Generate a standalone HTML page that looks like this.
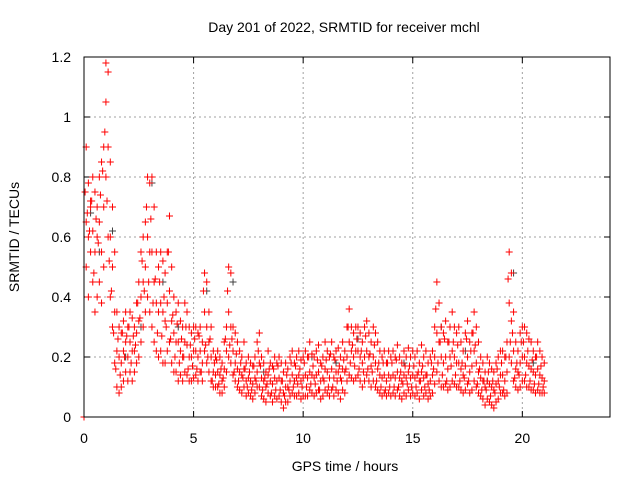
<!DOCTYPE html>
<html><head><meta charset="utf-8"><style>
body{margin:0;background:#fff;}
svg{display:block;font-family:"Liberation Sans",sans-serif;}
</style></head><body>
<svg id="chart" width="640" height="480">
<text x="344" y="32" font-size="14" text-anchor="middle">Day 201 of 2022, SRMTID for receiver mchl</text>
<text x="345" y="471" font-size="14" text-anchor="middle">GPS time / hours</text>
<text transform="translate(19,237) rotate(-90)" font-size="14" text-anchor="middle">SRMTID / TECUs</text>
<g id="grid"></g><g id="ticks"></g><g id="grey"></g><g id="red"></g>
<rect x="84" y="57" width="526" height="360" fill="none" stroke="#000" stroke-width="1"/>
</svg>
<script>
const xTicks=[0,5,10,15,20];
const yTicks=[0,0.2,0.4,0.6,0.8,1,1.2];
const yTickLabels=["0","0.2","0.4","0.6","0.8","1","1.2"];
const hi=[.90,.78,.72,.80,.75,.70,.80,.85,.90,1.18,
1.15,.85,.70,.55,.35,.30,.28,.32,.35,.30,
.35,.33,.30,.38,.45,.55,.60,.65,.80,.78,
.80,.70,.55,.50,.55,.52,.48,.55,.67,.50,
.40,.35,.38,.32,.30,.38,.35,.30,.28,.30,
.30,.28,.30,.25,.48,.45,.35,.30,.22,.20,
.22,.20,.18,.25,.30,.50,.48,.30,.28,.25,
.22,.20,.25,.18,.20,.18,.17,.20,.25,.28,
.20,.18,.15,.22,.18,.17,.20,.18,.20,.18,
.15,.18,.16,.20,.22,.18,.20,.22,.19,.20,
.22,.20,.25,.21,.20,.22,.24,.18,.20,.25,
.22,.20,.25,.20,.22,.23,.20,.25,.22,.30,
.36,.30,.28,.30,.30,.28,.25,.30,.32,.28,
.25,.30,.28,.25,.22,.20,.22,.18,.22,.20,
.22,.20,.24,.20,.18,.22,.20,.23,.20,.22,
.20,.22,.18,.24,.20,.22,.18,.20,.22,.30,
.45,.38,.30,.28,.32,.25,.30,.35,.30,.28,
.30,.25,.22,.28,.32,.25,.28,.35,.30,.25,
.20,.18,.15,.20,.18,.16,.15,.18,.20,.22,
.22,.20,.25,.55,.48,.35,.25,.22,.28,.30,
.30,.28,.26,.25,.22,.20,.25,.22,.20,.18];
const mid=[.65,.60,.70,.62,.55,.60,.65,.55,.70,1.05,
.90,.60,.50,.35,.22,.20,.18,.22,.25,.20,
.25,.22,.22,.28,.32,.40,.45,.50,.60,.55,
.55,.45,.38,.35,.38,.35,.32,.38,.42,.32,
.28,.25,.25,.22,.20,.25,.24,.20,.20,.22,
.22,.20,.22,.18,.35,.30,.25,.20,.15,.14,
.15,.14,.12,.16,.22,.35,.30,.22,.18,.16,
.15,.14,.16,.12,.13,.12,.11,.13,.15,.18,
.13,.12,.10,.14,.12,.11,.13,.12,.13,.12,
.08,.10,.10,.12,.14,.12,.13,.14,.12,.13,
.14,.13,.15,.14,.13,.14,.15,.12,.13,.16,
.15,.13,.16,.13,.15,.15,.13,.16,.15,.20,
.25,.22,.20,.22,.22,.20,.18,.20,.22,.20,
.17,.20,.18,.16,.14,.13,.14,.12,.14,.13,
.14,.13,.15,.13,.12,.14,.13,.15,.13,.14,
.13,.14,.12,.15,.13,.14,.11,.12,.14,.20,
.28,.25,.20,.18,.20,.16,.20,.22,.20,.18,
.18,.16,.14,.17,.20,.15,.17,.22,.18,.15,
.13,.12,.10,.12,.11,.10,.09,.11,.12,.14,
.14,.12,.15,.38,.32,.22,.16,.15,.18,.20,
.20,.18,.17,.16,.15,.14,.16,.14,.13,.12];
const lo=[.50,.40,.55,.45,.35,.40,.45,.38,.50,.80,
.60,.40,.30,.18,.10,.08,.10,.12,.15,.12,
.15,.12,.15,.18,.20,.25,.30,.35,.40,.35,
.30,.25,.22,.20,.22,.18,.18,.22,.25,.18,
.15,.15,.12,.14,.12,.15,.14,.12,.12,.13,
.14,.12,.15,.12,.22,.18,.15,.12,.10,.10,
.10,.08,.08,.10,.15,.20,.18,.14,.12,.10,
.09,.08,.10,.07,.08,.07,.06,.08,.10,.10,
.07,.06,.05,.08,.07,.05,.07,.06,.07,.05,
.03,.05,.05,.07,.08,.07,.07,.08,.06,.07,
.07,.07,.09,.08,.07,.08,.09,.06,.07,.09,
.08,.07,.09,.07,.09,.08,.06,.09,.08,.12,
.14,.13,.12,.13,.14,.12,.10,.12,.14,.12,
.10,.12,.10,.09,.08,.07,.08,.07,.08,.07,
.08,.07,.09,.07,.06,.08,.07,.09,.07,.08,
.07,.08,.06,.09,.07,.08,.06,.07,.08,.11,
.15,.12,.10,.10,.11,.09,.10,.12,.11,.10,
.10,.09,.08,.09,.11,.08,.09,.12,.10,.08,
.07,.06,.04,.06,.05,.04,.03,.05,.06,.08,
.08,.07,.08,.20,.18,.12,.10,.09,.10,.12,
.12,.10,.10,.09,.09,.08,.09,.08,.08,.08];
const alt=[.75,.68,.62,.72,.48,.66,.58,.74,.82,.95,
.72,.52,.42,.28,.16,.26,.14,.28,.20,.27,
.30,.18,.27,.24,.38,.33,.52,.42,.70,.45,
.66,.38,.46,.28,.45,.27,.40,.30,.55,.26,
.34,.20,.31,.18,.26,.20,.30,.16,.24,.17,
.26,.16,.27,.15,.42,.24,.20,.26,.12,.18,
.19,.11,.16,.13,.26,.42,.24,.26,.15,.21,
.12,.18,.13,.16,.10,.15,.09,.17,.12,.22,
.17,.09,.13,.11,.16,.08,.16,.09,.17,.09,
.12,.07,.14,.09,.18,.10,.17,.11,.16,.10,
.18,.10,.20,.11,.17,.11,.19,.09,.17,.12,
.19,.10,.21,.10,.19,.12,.17,.12,.19,.16,
.30,.18,.24,.17,.26,.16,.22,.15,.27,.16,
.21,.15,.24,.12,.18,.10,.18,.09,.18,.10,
.18,.10,.19,.10,.15,.11,.17,.11,.17,.10,
.17,.10,.15,.12,.17,.10,.14,.09,.18,.16,
.36,.18,.25,.14,.26,.12,.25,.17,.25,.14,
.24,.12,.18,.13,.26,.12,.22,.28,.24,.11,
.16,.09,.12,.09,.15,.07,.12,.08,.16,.10,
.18,.09,.20,.46,.25,.28,.13,.18,.14,.25,
.25,.14,.22,.12,.19,.11,.20,.11,.17,.10];
const greyT=[0,0.3,0.7,1.3,1.9,2.6,3.1,3.6,4.3,5.6,6.8,8.2,9.6,10.4,11.5,12.5,13.3,14.6,16.3,17.4,18.4,19.6,20.5];
const greyV=[0,0.68,0.55,0.62,0.20,0.30,0.78,0.45,0.30,0.42,0.45,0.15,0.12,0.20,0.18,0.26,0.28,0.18,0.30,0.22,0.12,0.48,0.18];
const times=hi.map((_,i)=>+(0.1*(i+1)).toFixed(1));
const NS="http://www.w3.org/2000/svg";
const X=t=>84+t*(526/24), Y=v=>417-v*300;
const grid=document.getElementById('grid'),ticks=document.getElementById('ticks');
function mk(tag,at,parent){const e=document.createElementNS(NS,tag);for(const k in at)e.setAttribute(k,at[k]);parent.appendChild(e);return e;}
xTicks.forEach(t=>{
  if(t>0){const g=mk('line',{x1:X(t),x2:X(t),y1:57,y2:417,stroke:'#a0a0a0','stroke-dasharray':'2,3'},grid);
  
  }
  mk('line',{x1:X(t),x2:X(t),y1:417,y2:411,stroke:'#000'},ticks);
  mk('line',{x1:X(t),x2:X(t),y1:57,y2:63,stroke:'#000'},ticks);
  const l=mk('text',{x:X(t),y:443,'font-size':14,'text-anchor':'middle'},ticks);l.textContent=t;
  
  
});
yTicks.forEach((v,i)=>{
  if(v>0&&v<1.2){const g=mk('line',{x1:84,x2:610,y1:Y(v),y2:Y(v),stroke:'#a0a0a0','stroke-dasharray':'2,3'},grid);
  
  }
  mk('line',{x1:84,x2:90,y1:Y(v),y2:Y(v),stroke:'#000'},ticks);
  mk('line',{x1:604,x2:610,y1:Y(v),y2:Y(v),stroke:'#000'},ticks);
  const l=mk('text',{x:71,y:Y(v)+5,'font-size':14,'text-anchor':'end'},ticks);l.textContent=yTickLabels[i];
  
  
});
function plus(g,t,v,c){const x=X(t),y=Y(v);
  const p=mk('path',{d:`M${x-3.5},${y}h7M${x},${y-3.5}v7`,stroke:c,'stroke-width':1,fill:'none'},g);
  
  }
const gg=document.getElementById('grey'),rg=document.getElementById('red');
greyT.forEach((t,i)=>plus(gg,t,greyV[i],'#404040'));
times.forEach((t,i)=>{plus(rg,t,hi[i],'#f00');plus(rg,t,mid[i],'#f00');plus(rg,t,lo[i],'#f00');plus(rg,t-0.05,alt[i],'#f00');});
plus(rg,0,0,'#f00');
</script>
</body></html>
